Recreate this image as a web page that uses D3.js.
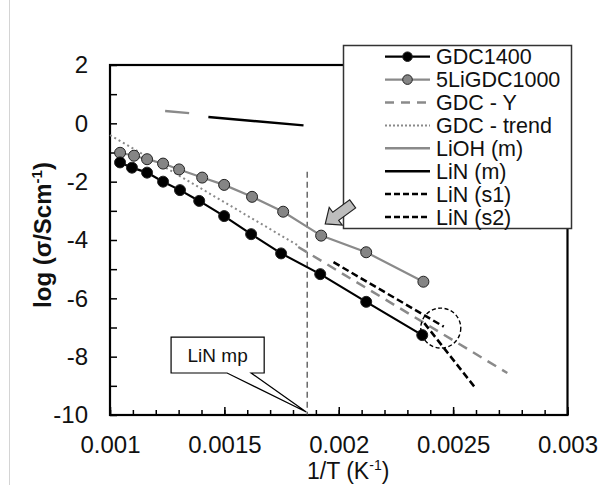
<!DOCTYPE html>
<html>
<head>
<meta charset="utf-8">
<script src="https://cdn.jsdelivr.net/npm/d3@7"></script>
<style>
  html, body { margin: 0; padding: 0; background: #fff; }
  svg { display: block; font-family: "Liberation Sans", Arial, sans-serif; }
</style>
</head>
<body>
<div id="svg-container"></div>
<script>
////////////////////////////////////////////////////////////////////
////////////////////////////  Data  ////////////////////////////////
// x = 1/T (K^-1), y = log(sigma / S cm^-1)
const gdc1400X = [0.001044, 0.001096, 0.001162, 0.001232, 0.001306, 0.00139, 0.001499, 0.001617, 0.001748, 0.001919, 0.00212, 0.002365];
const gdc1400Y = [-1.34, -1.52, -1.69, -2.0, -2.29, -2.66, -3.18, -3.8, -4.46, -5.17, -6.12, -7.26];

const li5GdcX = [0.001044, 0.001105, 0.001162, 0.001232, 0.001302, 0.001403, 0.001499, 0.001621, 0.001757, 0.001923, 0.00212, 0.00237];
const li5GdcY = [-1.01, -1.11, -1.23, -1.38, -1.58, -1.86, -2.11, -2.52, -3.03, -3.85, -4.42, -5.43];

const gdcYX = [0.001823, 0.002737];
const gdcYY = [-4.24, -8.56];

const gdcTrendX = [0.001, 0.001818];
const gdcTrendY = [-0.4, -4.17];

const liohX = [0.001241, 0.001346];
const liohY = [0.42, 0.35];

const linMX = [0.00143, 0.001846];
const linMY = [0.22, -0.07];

const linS1X = [0.001977, 0.002459];
const linS1Y = [-4.76, -6.97];

const linS2X = [0.002374, 0.002597];
const linS2Y = [-6.85, -9.07];

// LiN melting point marker
const linMpX = 0.001862;
const linMpY = [-1.66, -10];

// axis ticks
const xTickValues = [0.001, 0.0015, 0.002, 0.0025, 0.003];
const xTickLabels = ["0.001", "0.0015", "0.002", "0.0025", "0.003"];
const yTickValues = [-10, -8, -6, -4, -2, 0, 2];
const yTickLabels = ["-10", "-8", "-6", "-4", "-2", "0", "2"];

const seriesNames = ["GDC1400", "5LiGDC1000", "GDC - Y", "GDC - trend", "LiOH (m)", "LiN (m)", "LiN (s1)", "LiN (s2)"];

////////////////////////////////////////////////////////////////////
////////////////////////////  Init  ////////////////////////////////
const width = 601;
const height = 485;
const plot = { left: 110, right: 567.5, top: 65, bottom: 415 };

const black = "#000";
const gray = "#8a8a8a";
const markerGray = "#858585";

const style = {
  "GDC1400": { color: black, width: 2.2, dash: null, marker: black },
  "5LiGDC1000": { color: gray, width: 2.2, dash: null, marker: markerGray },
  "GDC - Y": { color: gray, width: 2.5, dash: "10,7", marker: null },
  "GDC - trend": { color: gray, width: 2, dash: "2,3", marker: null },
  "LiOH (m)": { color: gray, width: 2.5, dash: null, marker: null },
  "LiN (m)": { color: black, width: 2.5, dash: null, marker: null },
  "LiN (s1)": { color: black, width: 2.5, dash: "7,3.5", marker: null },
  "LiN (s2)": { color: black, width: 2.5, dash: "7,3.5", marker: null },
};

const svg = d3
  .select("#svg-container")
  .append("svg")
  .attr("width", width)
  .attr("height", height);

// scale
const x = d3.scaleLinear().domain([0.001, 0.003]).range([plot.left, plot.right]);
const y = d3.scaleLinear().domain([-10, 2]).range([plot.bottom, plot.top]);

const line = d3
  .line()
  .x((d) => x(d[0]))
  .y((d) => y(d[1]));

const zip = (xs, ys) => xs.map((v, i) => [v, ys[i]]);

// faint outer border of the chart area
svg.append("line")
  .attr("x1", 9.5).attr("x2", 9.5)
  .attr("y1", 0).attr("y2", height)
  .attr("stroke", "#d4d4d4");

////////////////////////////////////////////////////////////////////
////////////////////////////  Axes  ////////////////////////////////
// minor ticks
svg.append("g")
  .attr("transform", `translate(0,${plot.bottom})`)
  .call(d3.axisBottom(x).tickValues(d3.range(10, 31).map((d) => d / 10000)).tickSizeInner(-5).tickSizeOuter(0).tickFormat(""))
  .call((g) => g.select(".domain").remove())
  .selectAll("line").attr("stroke-width", 1.5);

svg.append("g")
  .attr("transform", `translate(0,${plot.bottom})`)
  .call(d3.axisBottom(x).tickValues(xTickValues).tickSizeInner(-8).tickSizeOuter(0).tickPadding(21)
    .tickFormat((d, i) => xTickLabels[i]))
  .call((g) => g.select(".domain").remove())
  .call((g) => g.selectAll("line").attr("stroke-width", 1.5))
  .selectAll("text")
  .attr("font-size", 24)
  .attr("font-family", "Liberation Sans, Arial, sans-serif")
  .attr("fill", "#111");

svg.append("g")
  .attr("transform", `translate(${plot.left},0)`)
  .call(d3.axisLeft(y).tickValues(d3.range(-10, 3)).tickSizeInner(-7).tickSizeOuter(0).tickFormat(""))
  .call((g) => g.select(".domain").remove())
  .selectAll("line").attr("stroke-width", 1.5);

svg.append("g")
  .attr("transform", `translate(${plot.left},0)`)
  .call(d3.axisLeft(y).tickValues(yTickValues).tickSize(0).tickPadding(22)
    .tickFormat((d, i) => yTickLabels[i]))
  .call((g) => g.select(".domain").remove())
  .selectAll("text")
  .attr("font-size", 24)
  .attr("font-family", "Liberation Sans, Arial, sans-serif")
  .attr("fill", "#111");

// plot frame
svg.append("rect")
  .attr("x", plot.left).attr("y", plot.top)
  .attr("width", plot.right - plot.left).attr("height", plot.bottom - plot.top)
  .attr("fill", "none")
  .attr("stroke", black)
  .attr("stroke-width", 2.2);

// axis titles
const yTitle = svg.append("text")
  .attr("transform", "translate(51,235) rotate(-90)")
  .attr("text-anchor", "middle")
  .attr("font-size", 24)
  .attr("font-weight", "bold")
  .attr("fill", "#111");
yTitle.append("tspan").text("log (σ/Scm");
yTitle.append("tspan").attr("font-size", 15).attr("dy", -9).text("-1");
yTitle.append("tspan").attr("dy", 9).text(")");

const xTitle = svg.append("text")
  .attr("x", 307).attr("y", 479)
  .attr("font-size", 23)
  .attr("fill", "#111");
xTitle.append("tspan").text("1/T (K");
xTitle.append("tspan").attr("font-size", 14).attr("dy", -9).text("-1");
xTitle.append("tspan").attr("dy", 9).text(")");

////////////////////////////////////////////////////////////////////
////////////////////////////  Series  //////////////////////////////
// LiN melting point
svg.append("line")
  .attr("x1", x(linMpX)).attr("x2", x(linMpX))
  .attr("y1", y(linMpY[0])).attr("y2", y(linMpY[1]))
  .attr("stroke", "#444")
  .attr("stroke-width", 1.2)
  .attr("stroke-dasharray", "6,4");

const series = [
  ["GDC - trend", zip(gdcTrendX, gdcTrendY)],
  ["GDC - Y", zip(gdcYX, gdcYY)],
  ["LiOH (m)", zip(liohX, liohY)],
  ["LiN (m)", zip(linMX, linMY)],
  ["LiN (s1)", zip(linS1X, linS1Y)],
  ["LiN (s2)", zip(linS2X, linS2Y)],
  ["5LiGDC1000", zip(li5GdcX, li5GdcY)],
  ["GDC1400", zip(gdc1400X, gdc1400Y)],
];

series.forEach(([name, pts]) => {
  const s = style[name];
  svg.append("path")
    .datum(pts)
    .attr("d", line)
    .attr("fill", "none")
    .attr("stroke", s.color)
    .attr("stroke-width", s.width)
    .attr("stroke-dasharray", s.dash);

  if (s.marker) {
    svg.append("g")
      .selectAll("circle")
      .data(pts)
      .join("circle")
      .attr("cx", (d) => x(d[0]))
      .attr("cy", (d) => y(d[1]))
      .attr("r", 5.5)
      .attr("fill", s.marker)
      .attr("stroke", "#222")
      .attr("stroke-width", 1);
  }
});

////////////////////////////////////////////////////////////////////
/////////////////////////  Annotations  ////////////////////////////
// dashed circle at the low temperature end
svg.append("circle")
  .attr("cx", x(0.002446))
  .attr("cy", y(-7.02))
  .attr("r", 20)
  .attr("fill", "none")
  .attr("stroke", black)
  .attr("stroke-width", 1.4)
  .attr("stroke-dasharray", "4,2.5");

// "LiN mp" callout
const bx0 = x(0.001267), bx1 = x(0.001674);
const by0 = y(-7.33), by1 = y(-8.56);
const px0 = x(0.001512), px1 = x(0.001617);
const tipX = x(0.001858), tipY = y(-9.9);
svg.append("path")
  .attr("d", `M${bx0},${by0}H${bx1}V${by1}H${px1}L${tipX},${tipY}L${px0},${by1}H${bx0}Z`)
  .attr("fill", "#fff")
  .attr("stroke", black)
  .attr("stroke-width", 1.2);
svg.append("text")
  .attr("x", (bx0 + bx1) / 2)
  .attr("y", (by0 + by1) / 2 + 7)
  .attr("text-anchor", "middle")
  .attr("font-size", 19)
  .attr("fill", "#111")
  .text("LiN mp");

////////////////////////////////////////////////////////////////////
////////////////////////////  Legend  //////////////////////////////
const legend = svg.append("g");
legend.append("rect")
  .attr("x", 343.5).attr("y", 45.5)
  .attr("width", 228).attr("height", 183)
  .attr("fill", "#fff")
  .attr("stroke", "#333")
  .attr("stroke-width", 1.5);

const rowY = (i) => 56.7 + i * 22.9;
const legendDash = { "GDC - Y": "9,7", "GDC - trend": "2,2", "LiN (s1)": "6,3", "LiN (s2)": "6,3" };

seriesNames.forEach((name, i) => {
  const s = style[name];
  legend.append("line")
    .attr("x1", 385).attr("x2", 430)
    .attr("y1", rowY(i)).attr("y2", rowY(i))
    .attr("stroke", s.color)
    .attr("stroke-width", s.width)
    .attr("stroke-dasharray", legendDash[name] || null);
  if (s.marker) {
    legend.append("circle")
      .attr("cx", 407.5).attr("cy", rowY(i))
      .attr("r", 4.8)
      .attr("fill", s.marker)
      .attr("stroke", "#222");
  }
  legend.append("text")
    .attr("x", 436).attr("y", rowY(i) + 7.6)
    .attr("font-size", 21.5)
    .attr("fill", "#111")
    .text(name);
});

// block arrow pointing at the 5LiGDC1000 kink
const arrowTip = [x(0.001941), y(-3.45)];
svg.append("path")
  .attr("d", "M0,0L13,-11L13,-5L34,-5L34,5L13,5L13,11Z")
  .attr("transform", `translate(${arrowTip[0]},${arrowTip[1]}) rotate(-36.3)`)
  .attr("fill", "#bdbdbd")
  .attr("stroke", "#222")
  .attr("stroke-width", 1.2);
</script>
</body>
</html>
